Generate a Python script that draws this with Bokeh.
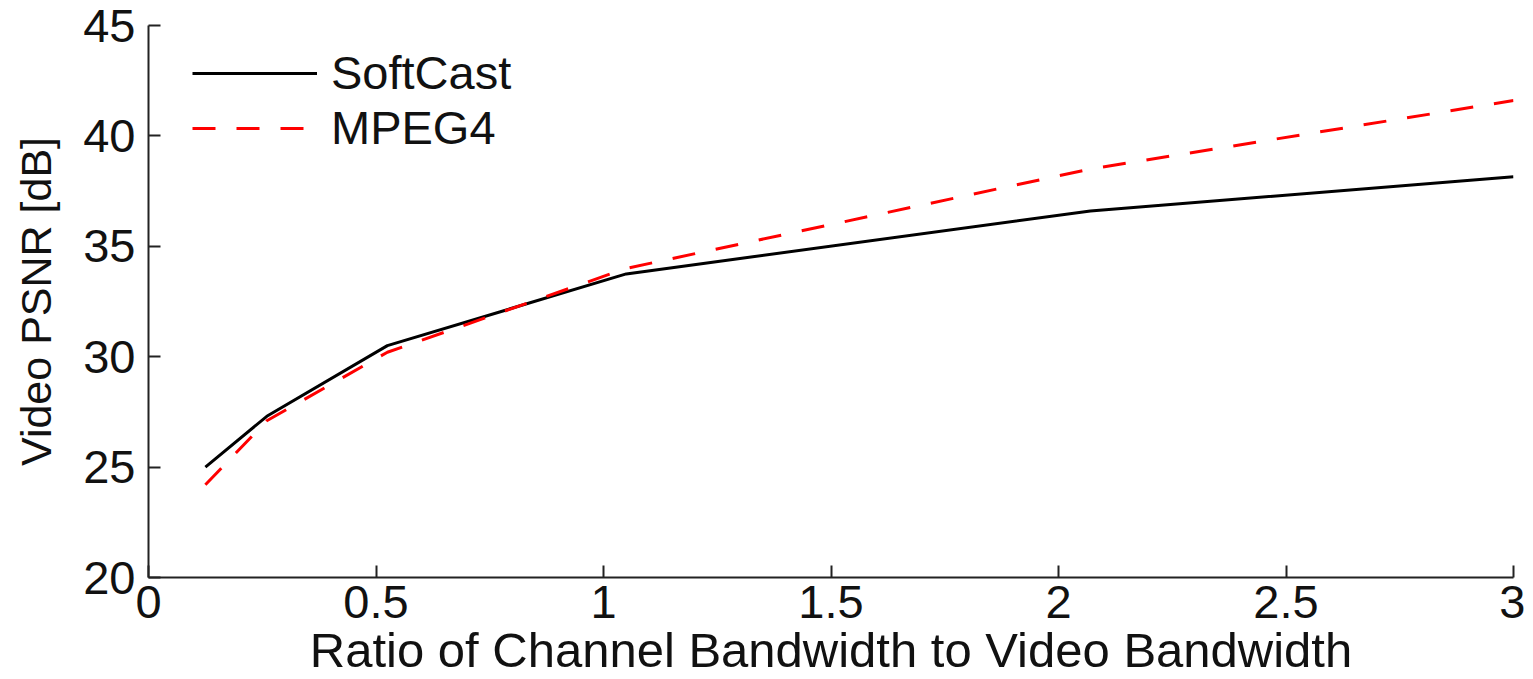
from bokeh.plotting import figure
from bokeh.models import Range1d, FixedTicker, Legend, LegendItem
from bokeh.embed import file_html
from bokeh.resources import INLINE

# ---- data ----
x_ratio = [0.125, 0.26, 0.525, 1.05, 2.07, 3.0]
softcast = [25.0, 27.3, 30.5, 33.75, 36.6, 38.15]
mpeg4 = [24.2, 27.1, 30.2, 34.0, 38.5, 41.6]

x_ticks = [0, 0.5, 1, 1.5, 2, 2.5, 3]
x_tick_labels = ["0", "0.5", "1", "1.5", "2", "2.5", "3"]
y_ticks = [20, 25, 30, 35, 40, 45]
y_tick_labels = ["20", "25", "30", "35", "40", "45"]

FONT = "Liberation Sans"
FS = "47px"

p = figure(width=1525, height=679, output_backend="svg", toolbar_location=None,
           x_range=Range1d(0, 3), y_range=Range1d(20, 45),
           min_border_left=148, min_border_right=12, min_border_top=25, min_border_bottom=98)

p.xgrid.visible = False
p.ygrid.visible = False
p.outline_line_color = None
p.background_fill_color = "white"
p.border_fill_color = "white"

r1 = p.line(x_ratio, softcast, line_color="black", line_width=3)
r2 = p.line(x_ratio, mpeg4, line_color="#ff0000", line_width=3, line_dash="23 21")

for ax, ticks, labels in ((p.xaxis[0], x_ticks, x_tick_labels), (p.yaxis[0], y_ticks, y_tick_labels)):
    ax.ticker = FixedTicker(ticks=ticks)
    ax.major_label_overrides = {t: l for t, l in zip(ticks, labels)}
    ax.major_tick_in = 12
    ax.major_tick_out = 0
    ax.minor_tick_line_color = None
    ax.axis_line_width = 2
    ax.axis_line_color = "#222222"
    ax.major_tick_line_width = 2
    ax.major_tick_line_color = "#222222"
    ax.major_label_text_font = FONT
    ax.major_label_text_font_size = FS
    ax.major_label_text_color = "#111111"
    ax.axis_label_text_font = FONT
    ax.axis_label_text_font_style = "normal"
    ax.axis_label_text_color = "#111111"

p.xaxis[0].axis_label_text_font_size = "49px"
p.yaxis[0].axis_label_text_font_size = "43px"
p.xaxis[0].major_label_standoff = 8
p.yaxis[0].major_label_standoff = 13
p.xaxis[0].axis_label = "Ratio of Channel Bandwidth to Video Bandwidth"
p.yaxis[0].axis_label = "Video PSNR [dB]"
p.xaxis[0].axis_label_standoff = 2
p.yaxis[0].axis_label_standoff = 20

legend = Legend(items=[LegendItem(label="SoftCast", renderers=[r1]),
                       LegendItem(label="MPEG4", renderers=[r2])],
                location=(44, 422), margin=0, padding=0, spacing=0,
                glyph_width=125, glyph_height=54, label_height=54,
                label_standoff=14, label_text_font=FONT, label_text_font_size=FS,
                label_text_color="#111111",
                border_line_color=None, background_fill_alpha=0)
p.add_layout(legend)

open("out.html", "w").write(file_html(p, INLINE))
